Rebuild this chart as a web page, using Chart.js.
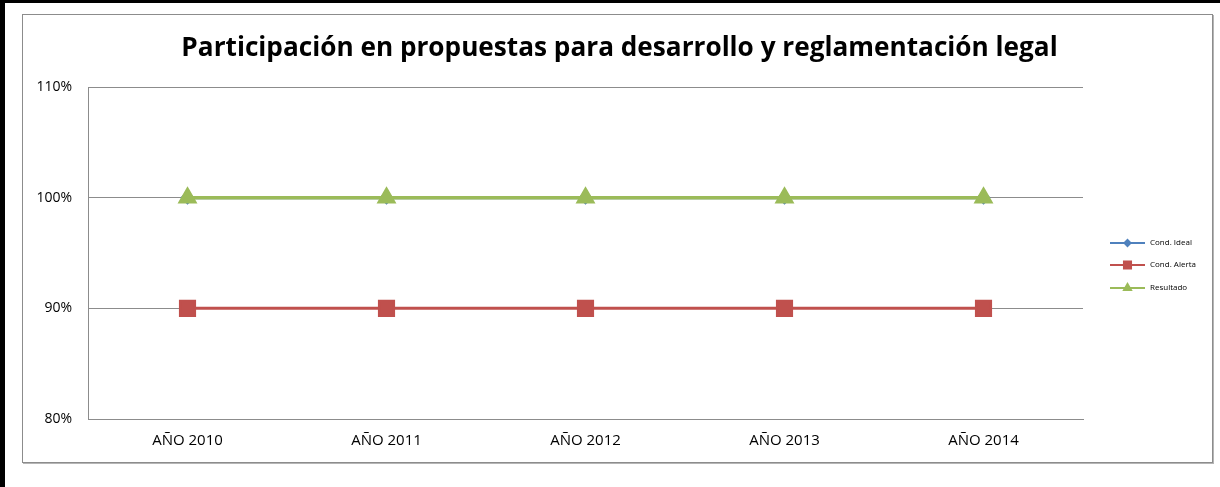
<!DOCTYPE html>
<html>
<head>
<meta charset="utf-8">
<script src="https://cdn.jsdelivr.net/npm/chart.js@4"></script>
<style>
  html, body { margin: 0; padding: 0; background: #fff; overflow: hidden; }
  #page { position: absolute; left: 0; top: 0; width: 1220px; height: 487px; box-sizing: border-box;
          border-left: 5px solid #000; border-top: 3px solid #000; background: #fff; }
  #box { position: absolute; left: 22px; top: 14px; width: 1189px; height: 447px;
         border: 1px solid #8c8c8c; box-shadow: 1px 1px 0 #b5b5b5; background: #fff; }
  #myChart { display: block; }
</style>
</head>
<body>
<div id="page"></div>
<div id="box"><canvas id="myChart" width="1189" height="447"></canvas></div>
<script>
const labels = ['AÑO 2010', 'AÑO 2011', 'AÑO 2012', 'AÑO 2013', 'AÑO 2014'];
const ideal = [1, 1, 1, 1, 1];
const alerta = [0.9, 0.9, 0.9, 0.9, 0.9];
const resultado = [1, 1, 1, 1, 1];
const yTicks = [0.8, 0.9, 1.0, 1.1];
const chartTitle = 'Participación en propuestas para desarrollo y reglamentación legal';

const fontFam = "'Open Sans', 'Liberation Sans', sans-serif";

// title centred over the whole canvas, not only the plot
const topTitle = {
    id: 'topTitle',
    afterDraw(chart) {
        const ctx = chart.ctx;
        ctx.save();
        ctx.fillStyle = '#000';
        ctx.font = "bold 26.2px " + fontFam;
        ctx.textAlign = 'center';
        ctx.textBaseline = 'middle';
        ctx.fillText(chartTitle, chart.width / 2 + 2, 34);
        ctx.restore();
    }
};

// excel style legend: line with marker in the middle
const sideLegend = {
    id: 'sideLegend',
    afterDraw(chart) {
        const ctx = chart.ctx;
        const x0 = chart.chartArea.right + 27;
        const rows = [228, 250, 273];
        chart.data.datasets.forEach((ds, i) => {
            const y = rows[i];
            ctx.save();
            ctx.strokeStyle = ds.borderColor;
            ctx.lineWidth = 2;
            ctx.beginPath();
            ctx.moveTo(x0, y);
            ctx.lineTo(x0 + 35, y);
            ctx.stroke();
            Chart.helpers.drawPoint(ctx, {
                pointStyle: ds.pointStyle,
                radius: ds.legendRadius,
                borderWidth: 1
            }, x0 + 17.5, y);
            ctx.fillStyle = ds.borderColor;
            ctx.fill();
            ctx.fillStyle = '#000';
            ctx.font = "8px " + fontFam;
            ctx.textBaseline = 'middle';
            ctx.fillText(ds.label, x0 + 40, y);
            ctx.restore();
        });
    }
};

const ctx = document.getElementById('myChart').getContext('2d');
const myChart = new Chart(ctx, {
    type: 'line',
    data: {
        labels: labels,
        datasets: [
            {
                label: 'Cond. Ideal',
                data: ideal,
                borderColor: '#4F81BD',
                backgroundColor: '#4F81BD',
                borderWidth: 3,
                pointStyle: 'rectRot',
                pointRadius: 5,
                legendRadius: 3,
                order: 1
            },
            {
                label: 'Cond. Alerta',
                data: alerta,
                borderColor: '#C0504D',
                backgroundColor: '#C0504D',
                borderWidth: 3,
                pointStyle: 'rect',
                pointRadius: 10,
                legendRadius: 5,
                order: 1
            },
            {
                label: 'Resultado',
                data: resultado,
                borderColor: '#9BBB59',
                backgroundColor: '#9BBB59',
                borderWidth: 3.5,
                pointStyle: 'triangle',
                pointRadius: 8,
                legendRadius: 4,
                order: 0
            }
        ]
    },
    options: {
        responsive: false,
        animation: false,
        layout: { padding: { left: 0, right: 129, top: 72, bottom: 0 } },
        plugins: {
            legend: { display: false },
            tooltip: { enabled: false },
            title: { display: false }
        },
        scales: {
            x: {
                offset: true,
                grid: { display: false, drawTicks: false },
                border: { display: true, color: '#8c8c8c', width: 1 },
                ticks: { color: '#000', padding: 13, font: { family: fontFam, size: 15 } },
                afterFit(scale) { scale.height = 43; }
            },
            y: {
                min: 0.8,
                max: 1.1,
                afterBuildTicks(scale) { scale.ticks = yTicks.map(v => ({ value: v })); },
                grid: { color: '#8c8c8c', lineWidth: 1, drawTicks: false },
                border: { display: true, color: '#8c8c8c', width: 1 },
                ticks: {
                    color: '#000',
                    padding: 16,
                    font: { family: fontFam, size: 14 },
                    callback: v => Math.round(v * 100) + '%'
                },
                afterFit(scale) { scale.width = 65; }
            }
        }
    },
    plugins: [topTitle, sideLegend]
});
</script>
</body>
</html>
